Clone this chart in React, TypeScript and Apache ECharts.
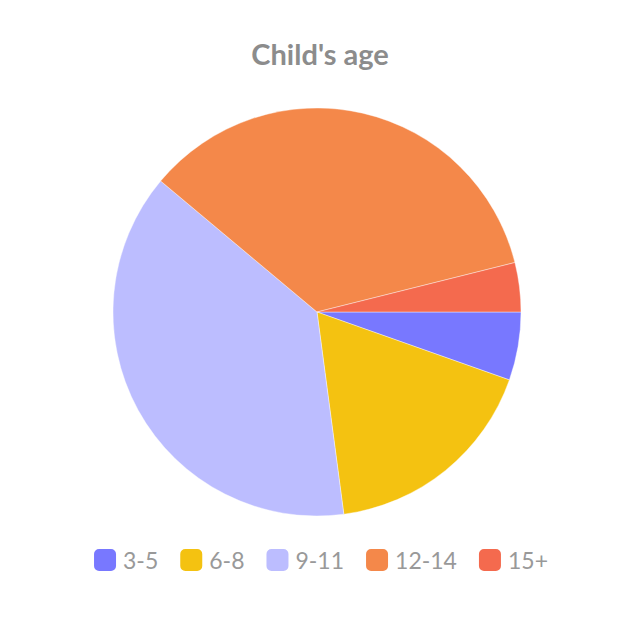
import React, { useEffect, useRef } from "react";
import * as echarts from "echarts";

const categories = ["3-5", "6-8", "9-11", "12-14", "15+"];
const values = [5.4, 17.5, 38.2, 35.0, 3.9];
const colors = ["#7878ff", "#f4c211", "#bcbdff", "#f4884a", "#f46a4e"];

export default function App() {
  const ref = useRef<HTMLDivElement>(null);
  useEffect(() => {
    const chart = echarts.init(ref.current!, null, { renderer: "svg" });
    chart.setOption({
      animation: false,
      color: colors,
      title: {
        text: "Child's age",
        left: "center",
        top: 34,
        textStyle: { fontFamily: "Lato", fontWeight: "bold", fontSize: 29, color: "#8c8c8c" },
      },
      legend: {
        bottom: 62,
        left: "center",
        itemWidth: 24,
        itemHeight: 24,
        itemGap: 20,
        icon: "roundRect",
        textStyle: { fontFamily: "Lato", fontSize: 23, color: "#999999", padding: [0, 0, 0, 1] },
        data: categories,
      },
      series: [
        {
          type: "pie",
          center: [317, 312],
          radius: 204,
          startAngle: 0,
          clockwise: true,
          label: { show: false },
          labelLine: { show: false },
          itemStyle: { borderColor: "#ffffff", borderWidth: 0.4 },
          data: categories.map((c, i) => ({ name: c, value: values[i] })),
        },
      ],
    });
    return () => chart.dispose();
  }, []);
  return <div ref={ref} style={{ position: "absolute", left: 0, top: 0, width: 640, height: 640 }} />;
}
